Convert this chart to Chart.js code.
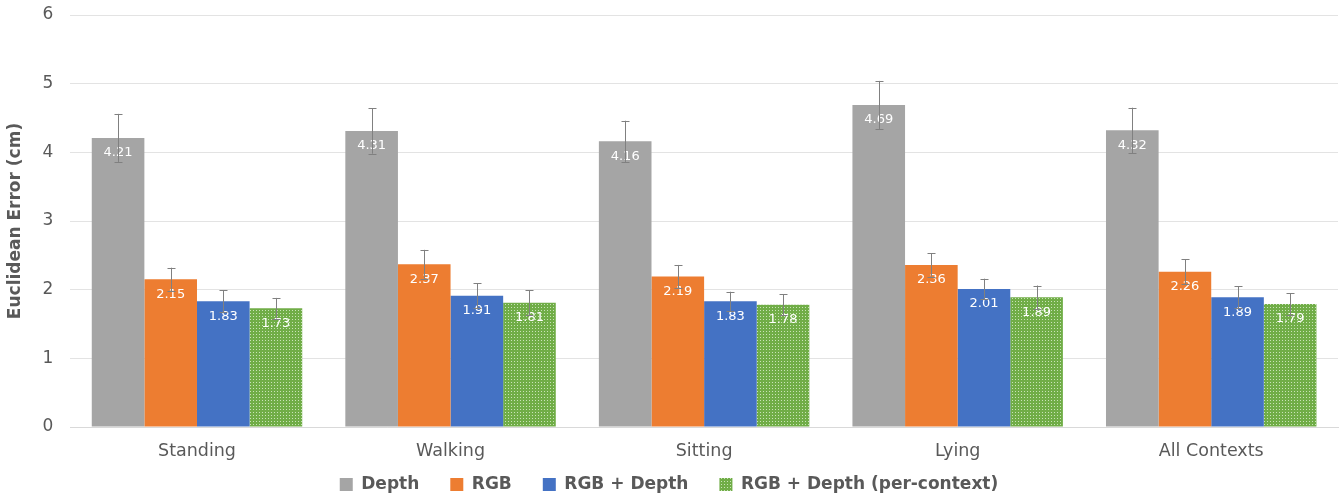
<!DOCTYPE html>
<html>
<head>
<meta charset="utf-8">
<script src="https://cdn.jsdelivr.net/npm/chart.js@4"></script>
<style>
  html, body { margin: 0; padding: 0; background: #fff; }
  #wrap { width: 1341px; height: 498px; }
</style>
</head>
<body>
<div id="wrap"><canvas id="myChart" width="1341" height="498"></canvas></div>
<script>
// data
const labels = ["Standing", "Walking", "Sitting", "Lying", "All Contexts"];
const seriesNames = ["Depth", "RGB", "RGB + Depth", "RGB + Depth (per-context)"];
const depth = [4.21, 4.31, 4.16, 4.69, 4.32];
const rgb = [2.15, 2.37, 2.19, 2.36, 2.26];
const rgbDepth = [1.83, 1.91, 1.83, 2.01, 1.89];
const rgbDepthCtx = [1.73, 1.81, 1.78, 1.89, 1.79];
// error bar half-lengths (std dev)
const depthErr = [0.35, 0.33, 0.30, 0.35, 0.33];
const rgbErr = [0.17, 0.21, 0.17, 0.17, 0.18];
const rgbDepthErr = [0.16, 0.18, 0.14, 0.15, 0.16];
const rgbDepthCtxErr = [0.15, 0.18, 0.15, 0.17, 0.16];
const yTicks = [0, 1, 2, 3, 4, 5, 6];

const textColor = "#595959";
const fontFamily = "'DejaVu Sans', sans-serif";

// dotted green pattern
function makePattern() {
  const c = document.createElement("canvas");
  c.width = 3;
  c.height = 3;
  const p = c.getContext("2d");
  p.fillStyle = "#70AD47";
  p.fillRect(0, 0, 3, 3);
  p.fillStyle = "#C9E3B8";
  p.fillRect(1, 1, 1, 1);
  return document.createElement("canvas").getContext("2d").createPattern(c, "repeat");
}
const greenPattern = makePattern();

const errs = [depthErr, rgbErr, rgbDepthErr, rgbDepthCtxErr];

// error bars + value labels
const extras = {
  id: "extras",
  afterLayout(chart) {
    // legend sits closer to the category labels than chart.js would put it
    chart.legend.top -= 23;
  },
  afterDatasetsDraw(chart) {
    const ctx = chart.ctx;
    const y = chart.scales.y;
    chart.data.datasets.forEach((ds, i) => {
      const meta = chart.getDatasetMeta(i);
      meta.data.forEach((bar, j) => {
        const v = ds.data[j];
        const e = errs[i][j];
        const x = bar.x;
        // label
        ctx.save();
        ctx.fillStyle = "#ffffff";
        ctx.font = "13px " + fontFamily;
        ctx.textAlign = "center";
        ctx.textBaseline = "middle";
        ctx.fillText(v.toFixed(2), x, bar.y + 15);
        ctx.restore();
        // error bar
        const top = y.getPixelForValue(v + e);
        const bot = y.getPixelForValue(v - e);
        ctx.save();
        ctx.strokeStyle = "#808080";
        ctx.lineWidth = 1;
        ctx.beginPath();
        ctx.moveTo(Math.round(x) + 0.5, top);
        ctx.lineTo(Math.round(x) + 0.5, bot);
        ctx.moveTo(Math.round(x) - 3.5, Math.round(top) + 0.5);
        ctx.lineTo(Math.round(x) + 4.5, Math.round(top) + 0.5);
        ctx.moveTo(Math.round(x) - 3.5, Math.round(bot) + 0.5);
        ctx.lineTo(Math.round(x) + 4.5, Math.round(bot) + 0.5);
        ctx.stroke();
        ctx.restore();
      });
    });
  }
};

const chart = new Chart(document.getElementById("myChart").getContext("2d"), {
  type: "bar",
  data: {
    labels: labels,
    datasets: [
      { label: seriesNames[0], data: depth, backgroundColor: "#A5A5A5" },
      { label: seriesNames[1], data: rgb, backgroundColor: "#ED7D31" },
      { label: seriesNames[2], data: rgbDepth, backgroundColor: "#4472C4" },
      { label: seriesNames[3], data: rgbDepthCtx, backgroundColor: greenPattern }
    ]
  },
  options: {
    responsive: false,
    animation: false,
    layout: { padding: { top: 5, right: 3, left: 0, bottom: 0 } },
    datasets: {
      bar: { barPercentage: 1, categoryPercentage: 0.83 }
    },
    scales: {
      x: {
        grid: { display: false },
        border: { color: "#D9D9D9" },
        ticks: { color: textColor, font: { family: fontFamily, size: 17.5 }, padding: 6 }
      },
      y: {
        min: 0,
        max: 6,
        afterBuildTicks(axis) {
          axis.ticks = yTicks.map(v => ({ value: v }));
        },
        afterFit(scale) { scale.paddingTop = 15; scale.paddingBottom = 0; },
        grid: { color: "#E3E3E3", drawTicks: false },
        border: { display: false },
        ticks: { color: textColor, font: { family: fontFamily, size: 17 }, padding: 17 },
        title: {
          display: true,
          text: "Euclidean Error (cm)",
          color: textColor,
          font: { family: fontFamily, size: 17, weight: "bold" },
          padding: { top: 5, bottom: 0 }
        }
      }
    },
    plugins: {
      legend: {
        position: "bottom",
        maxHeight: 30,
        labels: {
          color: textColor,
          boxWidth: 13,
          boxHeight: 13,
          padding: 31,
          font: { family: fontFamily, size: 17, weight: "bold" }
        }
      },
      tooltip: { enabled: false }
    }
  },
  plugins: [extras]
});
</script>
</body>
</html>
